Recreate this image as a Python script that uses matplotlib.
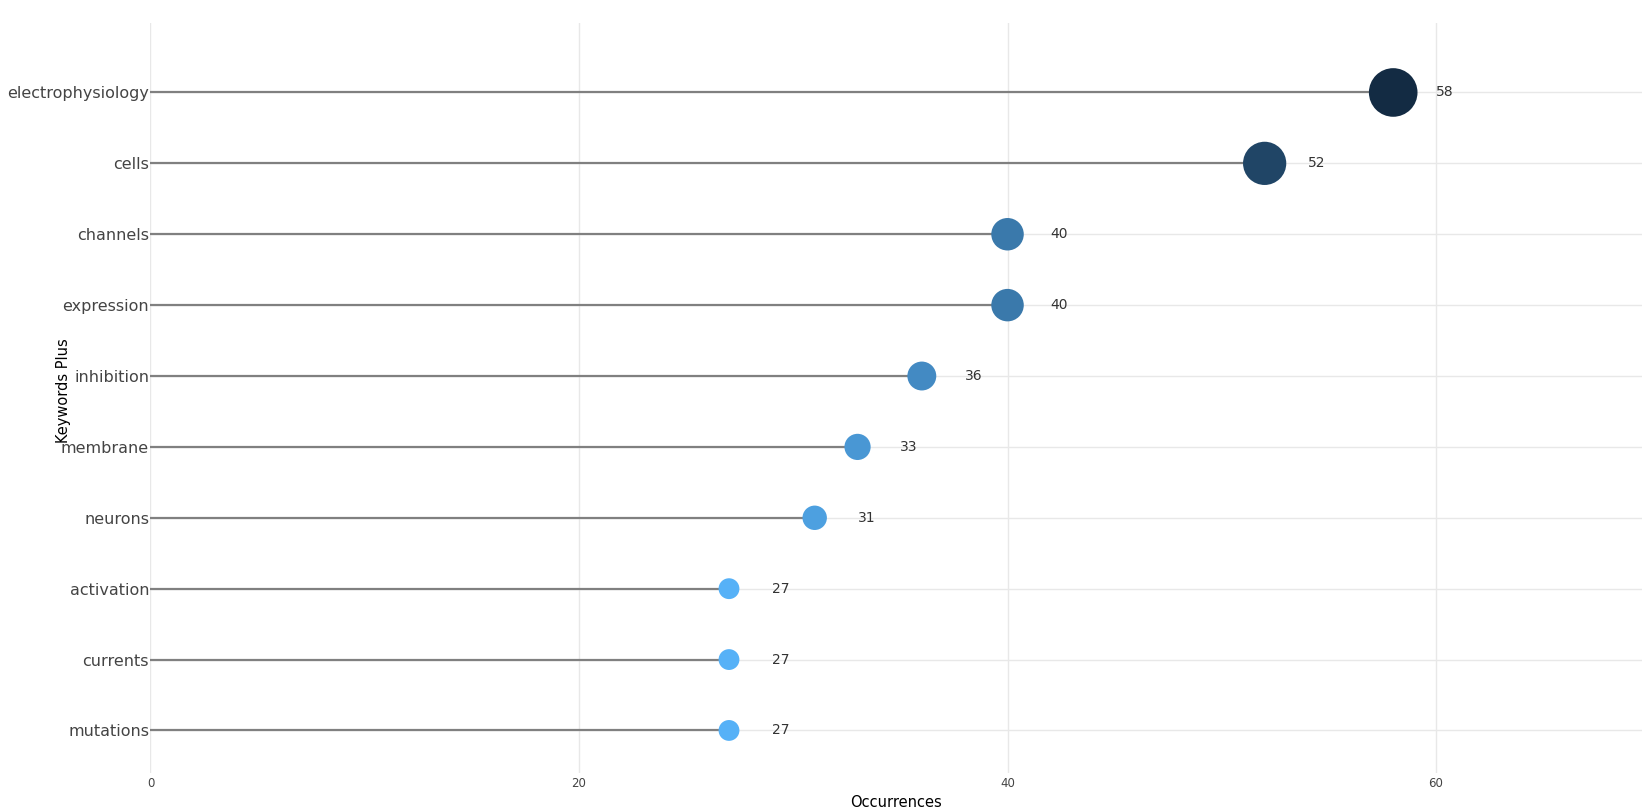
import matplotlib.pyplot as plt
from matplotlib.colors import LinearSegmentedColormap, Normalize

keywords = ['mutations', 'currents', 'activation', 'neurons', 'membrane',
            'inhibition', 'expression', 'channels', 'cells', 'electrophysiology']
occurrences = [27, 27, 27, 31, 33, 36, 40, 40, 52, 58]
x_ticks = [0, 20, 40, 60]

fig = plt.figure(figsize=(16.5, 8.1), dpi=100)
ax = fig.add_axes([0.0912, 0.0457, 0.9038, 0.9259])

cmap = LinearSegmentedColormap.from_list('gg', ['#56B1F7', '#132B43'])
norm = Normalize(vmin=min(occurrences), vmax=max(occurrences))
ypos = list(range(len(keywords)))

# stems
ax.hlines(ypos, 0, occurrences, color='#808080', linewidth=1.6, zorder=2)

# bubbles, diameter grows with value
vmin, vmax = min(occurrences), max(occurrences)
diam = [15 + (v - vmin) / (vmax - vmin) * 20 for v in occurrences]
sizes = [d ** 2 for d in diam]
ax.scatter(occurrences, ypos, s=sizes, c=[cmap(norm(v)) for v in occurrences],
           zorder=3, linewidths=0)

for y, v in zip(ypos, occurrences):
    ax.text(v + 2, y, str(v), ha='left', va='center', fontsize=10, color='#333333')

ax.set_xlim(0, max(occurrences) * 1.2)
ax.set_ylim(-0.6, 9.98)
ax.set_yticks(ypos)
ax.set_yticklabels(keywords, fontsize=11.5, color='#444444')
ax.set_xticks(x_ticks)
ax.set_xticklabels([str(t) for t in x_ticks], fontsize=8.5, color='#444444')
ax.tick_params(axis='both', length=0)
ax.tick_params(axis='y', pad=1)
ax.tick_params(axis='x', pad=3)

ax.grid(True, color='#e8e8e8', linewidth=1)
ax.set_axisbelow(True)
for s in ax.spines.values():
    s.set_visible(False)

ax.set_xlabel('Occurrences', fontsize=10.5, color='black')
ax.set_ylabel('Keywords Plus', fontsize=10.5, color='black')
ax.xaxis.set_label_coords(0.5, -0.03)
ax.yaxis.set_label_coords(-0.0535, 0.51)

fig.savefig('out.png', dpi=100)
plt.close(fig)
